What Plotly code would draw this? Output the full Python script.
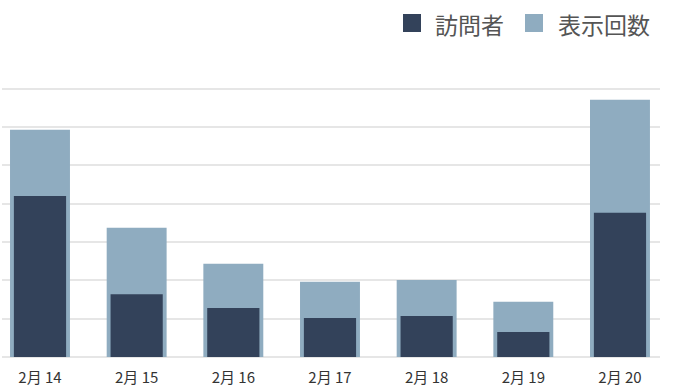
import plotly.graph_objects as go

categories = ["2月 14", "2月 15", "2月 16", "2月 17", "2月 18", "2月 19", "2月 20"]
visitors = [42.0, 16.4, 12.8, 10.2, 10.7, 6.5, 37.6]
views = [59.3, 33.7, 24.3, 19.6, 20.1, 14.4, 67.1]
series_names = ["訪問者", "表示回数"]

DARK = "#33425a"
LIGHT = "#8facc0"
FONT = "Noto Sans CJK JP"

W, H = 680, 389
ML, MR, MT, MB = 2, 20, 81, 32
PW, PH = W - ML - MR, H - MT - MB

def px_x(p):
    return (p - ML) / PW

def px_y(p):
    return (H - MB - p) / PH

xs = list(range(len(categories)))

fig = go.Figure()
fig.add_trace(go.Bar(x=xs, y=views, width=0.62, marker=dict(color=LIGHT, line=dict(width=0)),
                     name=series_names[1], showlegend=False, hoverinfo="skip"))
fig.add_trace(go.Bar(x=xs, y=visitors, width=0.54, marker=dict(color=DARK, line=dict(width=0)),
                     name=series_names[0], showlegend=False, hoverinfo="skip"))

# custom legend (squares + labels)
legend_items = [(series_names[0], DARK, 403, 433), (series_names[1], LIGHT, 525, 556)]
shapes, annos = [], []
for name, col, sq_x, tx_x in legend_items:
    shapes.append(dict(type="rect", xref="paper", yref="paper",
                       x0=px_x(sq_x), x1=px_x(sq_x + 18), y0=px_y(32), y1=px_y(14),
                       fillcolor=col, line=dict(width=0)))
    annos.append(dict(text=name, xref="paper", yref="paper", x=px_x(tx_x), y=px_y(23.5),
                      xanchor="left", yanchor="middle", showarrow=False,
                      font=dict(size=23, color="#555555", family=FONT)))

fig.update_layout(
    width=W, height=H,
    margin=dict(l=ML, r=MR, t=MT, b=MB),
    barmode="overlay",
    plot_bgcolor="white", paper_bgcolor="white",
    font=dict(family=FONT, color="#333333"),
    showlegend=False,
    shapes=shapes, annotations=annos,
    xaxis=dict(range=[-0.393, 6.414], tickvals=xs, ticktext=categories,
               showgrid=False, zeroline=False, showline=False,
               ticks="outside", ticklen=7, tickcolor="rgba(0,0,0,0)",
               tickfont=dict(size=15, color="#333333", family=FONT)),
    yaxis=dict(range=[0, 72], tickvals=[0, 10, 20, 30, 40, 50, 60, 70],
               showticklabels=False, showgrid=True, gridcolor="#e6e6e6", gridwidth=2,
               zeroline=True, zerolinecolor="#e6e6e6", zerolinewidth=2, showline=False),
)

fig.write_html("out.html", config={"displayModeBar": False},
               post_script="document.body.style.margin='0';")
